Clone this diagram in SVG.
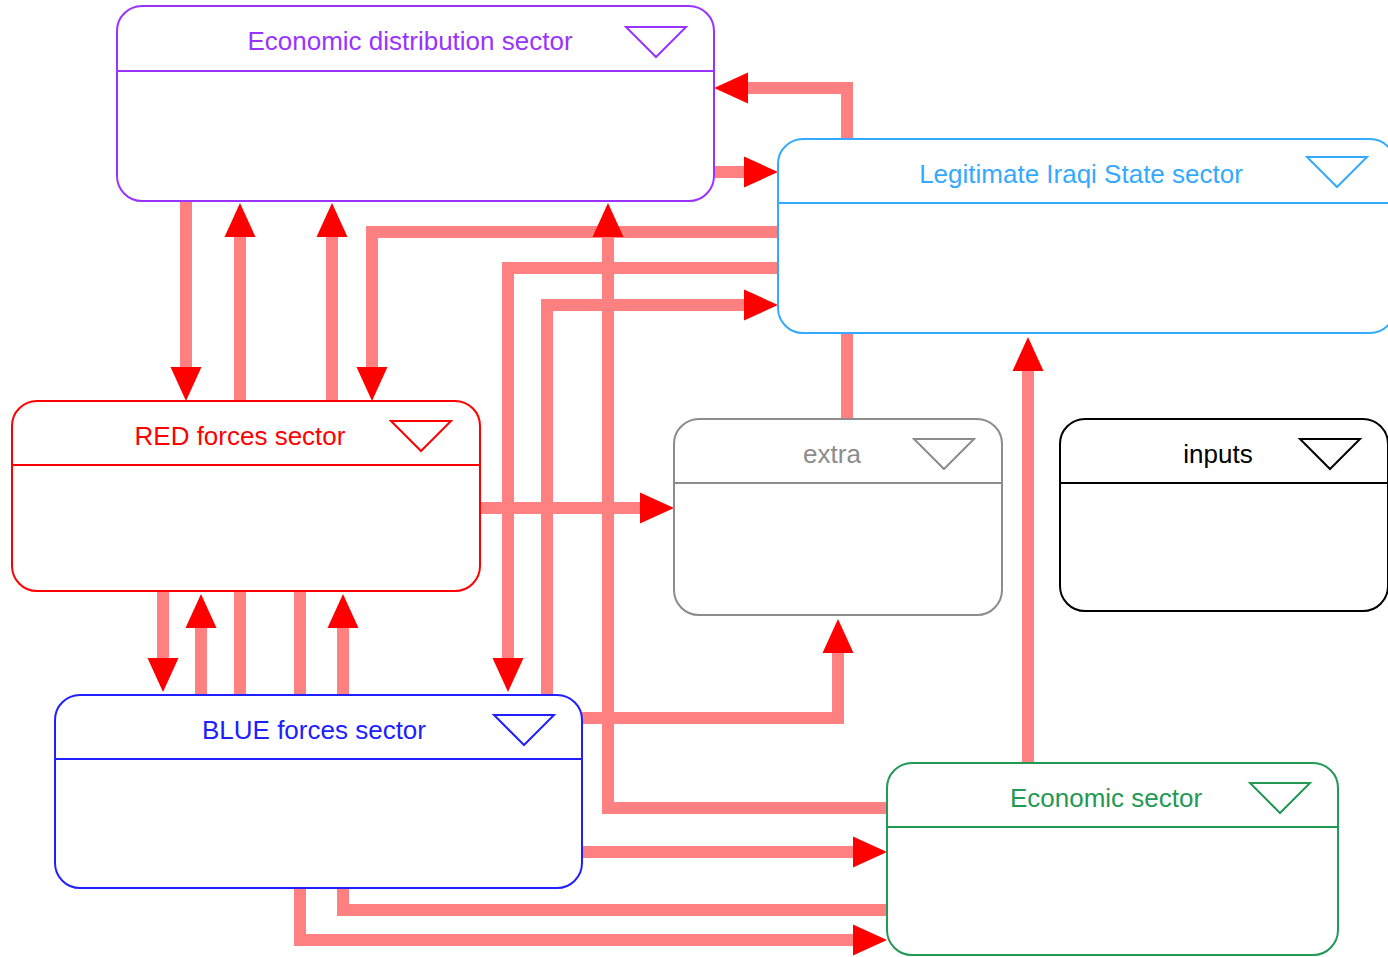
<svg xmlns="http://www.w3.org/2000/svg" width="1388" height="957" viewBox="0 0 1388 957">
<defs>
<marker id="arrow" viewBox="0 -16 34 32" refX="0" refY="0" markerWidth="34" markerHeight="32" markerUnits="userSpaceOnUse" orient="auto">
<path d="M0,-15.5 L34,0 L0,15.5 z" fill="#ff0000"/>
</marker>
</defs>
<style>
.conn{fill:none;stroke:#ff8080;stroke-width:12;stroke-linejoin:miter;stroke-linecap:butt}
.arr{marker-end:url(#arrow)}
.box{fill:#ffffff;stroke-width:2}
.hdr{stroke-width:2}
.tri{fill:none;stroke-width:2}
.lbl{font-family:"Liberation Sans",Arial,sans-serif;font-size:26px;text-anchor:middle}
</style>
<rect x="0" y="0" width="1388" height="957" fill="#ffffff"/>
<g id="connectors">
<path class="conn arr" d="M186,201 V367"/>
<path class="conn arr" d="M240,695 V237"/>
<path class="conn arr" d="M332,401 V237"/>
<path class="conn arr" d="M778,232 H372 V367"/>
<path class="conn arr" d="M714,172 H744"/>
<path class="conn arr" d="M847,419 V88 H748"/>
<path class="conn arr" d="M887,808 H608 V237"/>
<path class="conn arr" d="M778,268 H508 V658"/>
<path class="conn arr" d="M547,695 V305 H744"/>
<path class="conn arr" d="M480,508 H640"/>
<path class="conn arr" d="M163,591 V658"/>
<path class="conn arr" d="M201,695 V628"/>
<path class="conn arr" d="M300,591 V940 H853"/>
<path class="conn arr" d="M887,910 H343 V628"/>
<path class="conn arr" d="M582,718 H838 V653"/>
<path class="conn arr" d="M582,852 H853"/>
<path class="conn arr" d="M1028,763 V371"/>
</g>
<g id="node-econdist">
<rect class="box" x="117" y="6" width="597" height="195" rx="25" ry="25" stroke="#9933ff"/>
<line class="hdr" x1="117" y1="71" x2="714" y2="71" stroke="#9933ff"/>
<text class="lbl" x="410" y="50" fill="#9933ff">Economic distribution sector</text>
<path class="tri" d="M626,27 H686 L656,57 z" stroke="#9933ff"/>
</g>
<g id="node-legit">
<rect class="box" x="778" y="139" width="617" height="194" rx="25" ry="25" stroke="#33aaff"/>
<line class="hdr" x1="778" y1="203" x2="1395" y2="203" stroke="#33aaff"/>
<text class="lbl" x="1081" y="183" fill="#33aaff">Legitimate Iraqi State sector</text>
<path class="tri" d="M1307,157 H1367 L1337,187 z" stroke="#33aaff"/>
</g>
<g id="node-red">
<rect class="box" x="12" y="401" width="468" height="190" rx="25" ry="25" stroke="#ff0000"/>
<line class="hdr" x1="12" y1="465" x2="480" y2="465" stroke="#ff0000"/>
<text class="lbl" x="240" y="445" fill="#ff0000">RED forces sector</text>
<path class="tri" d="M391,421 H451 L421,451 z" stroke="#ff0000"/>
</g>
<g id="node-extra">
<rect class="box" x="674" y="419" width="328" height="196" rx="25" ry="25" stroke="#8c8c8c"/>
<line class="hdr" x1="674" y1="483" x2="1002" y2="483" stroke="#8c8c8c"/>
<text class="lbl" x="832" y="463" fill="#8c8c8c">extra</text>
<path class="tri" d="M914,439 H974 L944,469 z" stroke="#8c8c8c"/>
</g>
<g id="node-inputs">
<rect class="box" x="1060" y="419" width="328" height="192" rx="25" ry="25" stroke="#000000"/>
<line class="hdr" x1="1060" y1="483" x2="1388" y2="483" stroke="#000000"/>
<text class="lbl" x="1218" y="463" fill="#000000">inputs</text>
<path class="tri" d="M1300,439 H1360 L1330,469 z" stroke="#000000"/>
</g>
<g id="node-blue">
<rect class="box" x="55" y="695" width="527" height="193" rx="25" ry="25" stroke="#2020ff"/>
<line class="hdr" x1="55" y1="759" x2="582" y2="759" stroke="#2020ff"/>
<text class="lbl" x="314" y="739" fill="#2020ff">BLUE forces sector</text>
<path class="tri" d="M494,715 H554 L524,745 z" stroke="#2020ff"/>
</g>
<g id="node-econ">
<rect class="box" x="887" y="763" width="451" height="192" rx="25" ry="25" stroke="#229955"/>
<line class="hdr" x1="887" y1="827" x2="1338" y2="827" stroke="#229955"/>
<text class="lbl" x="1106" y="807" fill="#229955">Economic sector</text>
<path class="tri" d="M1250,783 H1310 L1280,813 z" stroke="#229955"/>
</g>
</svg>
